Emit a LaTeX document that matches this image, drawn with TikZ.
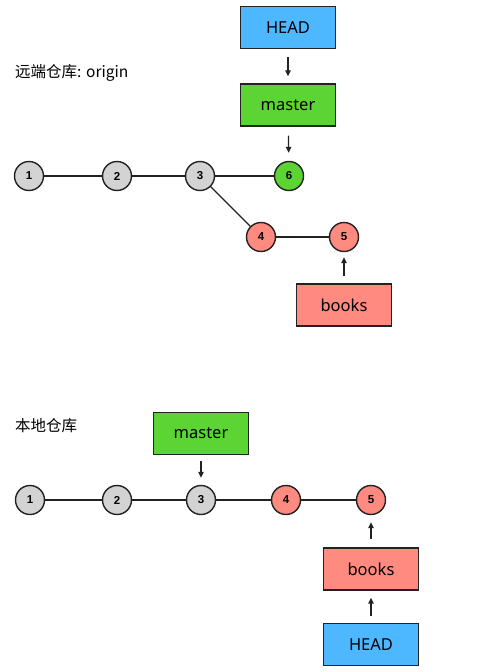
\documentclass[tikz,border=0pt]{standalone}
\usepackage{fontspec}
\setmainfont{Noto Sans}
\newfontfamily\cjk{Noto Sans CJK SC}
\newfontfamily\digitfont{Liberation Sans}
\usetikzlibrary{arrows.meta}
\definecolor{headblue}{HTML}{4DB8FF}
\definecolor{mastergreen}{HTML}{5BD434}
\definecolor{booksred}{HTML}{FF8A80}
\definecolor{commitgray}{HTML}{D3D3D3}
\definecolor{ink}{HTML}{222222}
\begin{document}
\begin{tikzpicture}[x=1pt,y=-1pt,
  commit/.style={circle,draw=ink,line width=1.4pt,minimum size=29pt,inner sep=0pt,
    font=\digitfont\fontsize{11.5}{11.5}\selectfont\bfseries},
  ref/.style={draw=ink,line width=1.4pt,minimum width=95pt,minimum height=42pt,inner sep=0pt,
    font=\fontsize{16.5}{16.5}\selectfont},
  ptr/.style={draw=ink,-{Triangle[length=6pt,width=5.5pt]},line width=1.2pt},
  link/.style={draw=ink,line width=1.4pt},
  title/.style={anchor=west,inner sep=0pt,font=\cjk\fontsize{15.5}{15.5}\selectfont}]
\useasboundingbox (0,0) rectangle (484,672);

% remote repository
\node[title] (t1) at (15,73) {远端仓库: origin};
\node[ref,fill=headblue] (rhead) at (288,27.5) {HEAD};
\node[ref,fill=mastergreen] (rmaster) at (288,105) {master};
\node[commit,fill=commitgray] (r1) at (29,176) {1};
\node[commit,fill=commitgray] (r2) at (117,176) {2};
\node[commit,fill=commitgray] (r3) at (200,176) {3};
\node[commit,fill=mastergreen] (r6) at (289,176) {6};
\node[commit,fill=booksred] (r4) at (261,237) {4};
\node[commit,fill=booksred] (r5) at (344,237) {5};
\node[ref,fill=booksred] (rbooks) at (344,305) {books};
\draw[link] (r1) -- (r2);
\draw[link] (r2) -- (r3);
\draw[link] (r3) -- (r6);
\draw[link] (r3) -- (r4);
\draw[link] (r4) -- (r5);
\draw[ptr,shorten <=8pt,shorten >=7pt] (rhead) -- (rmaster);
\draw[ptr,shorten <=9pt,shorten >=8pt] (rmaster) -- (r6);
\draw[ptr,shorten <=7pt,shorten >=5pt] (rbooks) -- (r5);

% local repository
\node[title] (t2) at (15,426) {本地仓库};
\node[ref,fill=mastergreen] (lmaster) at (201,433.5) {master};
\node[commit,fill=commitgray] (l1) at (30,500) {1};
\node[commit,fill=commitgray] (l2) at (117,500) {2};
\node[commit,fill=commitgray] (l3) at (201,500) {3};
\node[commit,fill=booksred] (l4) at (286,500) {4};
\node[commit,fill=booksred] (l5) at (371,500) {5};
\node[ref,fill=booksred] (lbooks) at (371,569) {books};
\node[ref,fill=headblue] (lhead) at (371,644.5) {HEAD};
\draw[link] (l1) -- (l2);
\draw[link] (l2) -- (l3);
\draw[link] (l3) -- (l4);
\draw[link] (l4) -- (l5);
\draw[ptr,shorten <=6pt,shorten >=7pt] (lmaster) -- (l3);
\draw[ptr,shorten <=8pt,shorten >=7pt] (lbooks) -- (l5);
\draw[ptr,shorten <=7pt,shorten >=7pt] (lhead) -- (lbooks);
\end{tikzpicture}
\end{document}
